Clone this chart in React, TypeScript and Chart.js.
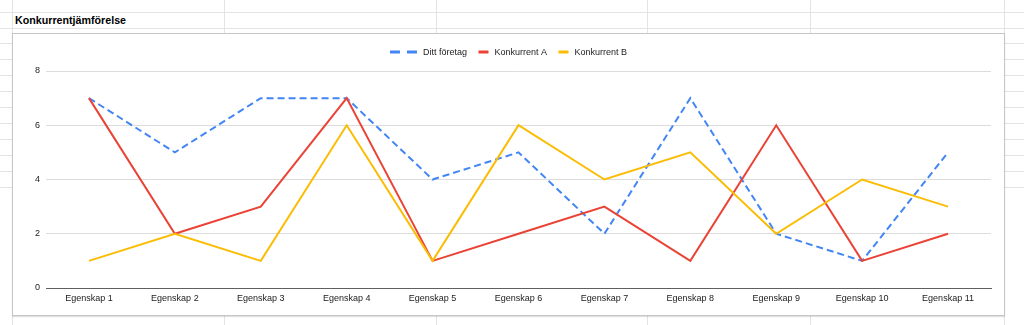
import React, { useEffect, useRef } from "react";
import { Chart, registerables } from "chart.js";

Chart.register(...registerables);

const categories = [
  "Egenskap 1", "Egenskap 2", "Egenskap 3", "Egenskap 4", "Egenskap 5", "Egenskap 6",
  "Egenskap 7", "Egenskap 8", "Egenskap 9", "Egenskap 10", "Egenskap 11",
];
const dittForetag = [7, 5, 7, 7, 4, 5, 2, 7, 2, 1, 5];
const konkurrentA = [7, 2, 3, 7, 1, 2, 3, 1, 6, 1, 2];
const konkurrentB = [1, 2, 1, 6, 1, 6, 4, 5, 2, 4, 3];
const seriesNames = ["Ditt företag", "Konkurrent A", "Konkurrent B"];
const seriesColors = ["#4285F4", "#EA4335", "#FBBC04"];
const yTicks = [0, 2, 4, 6, 8];

const FONT = "'Liberation Sans', Arial, sans-serif";
const GRID = "#e2e3e3";

const legendPlugin = {
  id: "sheetLegend",
  afterDraw(chart: any) {
    const ctx = chart.ctx;
    ctx.save();
    ctx.font = `9px ${FONT}`;
    ctx.textBaseline = "middle";
    ctx.textAlign = "left";
    const items = chart.data.datasets.map((ds: any) => {
      const dashed = ds.borderDash && ds.borderDash.length > 0;
      const symW = dashed ? 27 : 10;
      const textW = ctx.measureText(ds.label).width;
      return { ds, dashed, symW, textW, w: symW + 6 + textW };
    });
    const gap = 11.5;
    const total = items.reduce((s: number, it: any) => s + it.w, 0) + gap * (items.length - 1);
    let x = chart.width / 2 - total / 2;
    const y = 18;
    for (const it of items) {
      ctx.beginPath();
      ctx.setLineDash(it.dashed ? [10, 7] : []);
      ctx.lineWidth = 3;
      ctx.strokeStyle = it.ds.borderColor;
      ctx.moveTo(x, y);
      ctx.lineTo(x + it.symW, y);
      ctx.stroke();
      ctx.setLineDash([]);
      ctx.fillStyle = "#222";
      ctx.fillText(it.ds.label, x + it.symW + 6, y + 0.5);
      x += it.w + gap;
    }
    ctx.restore();
  },
};

function ChartBox() {
  const ref = useRef<HTMLCanvasElement | null>(null);
  useEffect(() => {
    if (!ref.current) return;
    const chart = new Chart(ref.current, {
      type: "line",
      data: {
        labels: categories,
        datasets: [
          {
            label: seriesNames[0],
            data: dittForetag,
            borderColor: seriesColors[0],
            backgroundColor: seriesColors[0],
            borderDash: [7, 4],
            borderWidth: 2,
            pointRadius: 0,
            tension: 0,
            order: 2,
          },
          {
            label: seriesNames[1],
            data: konkurrentA,
            borderColor: seriesColors[1],
            backgroundColor: seriesColors[1],
            borderWidth: 2,
            pointRadius: 0,
            tension: 0,
            order: 1,
          },
          {
            label: seriesNames[2],
            data: konkurrentB,
            borderColor: seriesColors[2],
            backgroundColor: seriesColors[2],
            borderWidth: 2,
            pointRadius: 0,
            tension: 0,
            order: 0,
          },
        ],
      },
      options: {
        animation: false,
        responsive: false,
        maintainAspectRatio: false,
        layout: { padding: { top: 37, right: 13, bottom: 0, left: 0 } },
        plugins: {
          legend: { display: false },
          tooltip: { enabled: false },
          title: { display: false },
        },
        scales: {
          x: {
            offset: true,
            grid: { display: false, drawTicks: false },
            border: { display: true, color: "#5f5f5f", width: 1 },
            ticks: {
              padding: 5,
              color: "#222",
              font: { family: FONT, size: 9 },
              maxRotation: 0,
              autoSkip: false,
            },
            afterFit: (s: any) => {
              s.height = 27;
            },
          },
          y: {
            min: 0,
            max: 8,
            afterBuildTicks: (s: any) => {
              s.ticks = yTicks.map((v) => ({ value: v }));
            },
            grid: { color: "#dcdcdc", lineWidth: 1, drawTicks: false },
            border: { display: false },
            ticks: {
              padding: 6,
              color: "#222",
              font: { family: FONT, size: 9 },
            },
            afterFit: (s: any) => {
              s.width = 33;
            },
          },
        },
      },
      plugins: [legendPlugin],
    });
    return () => chart.destroy();
  }, []);
  return <canvas ref={ref} width={991} height={281} style={{ display: "block", width: 991, height: 281 }} />;
}

const hRowsFull = [12, 28];
const sideRows = [43, 59, 75, 91, 107, 123, 139, 155, 171, 187];
const vCols = [12, 224, 436, 647, 810, 1004];

export default function App() {
  const lines: React.ReactNode[] = [];
  hRowsFull.forEach((y, i) =>
    lines.push(<div key={"h" + i} style={{ position: "absolute", left: 0, top: y, width: 1024, height: 1, background: GRID }} />)
  );
  sideRows.forEach((y, i) => {
    lines.push(<div key={"l" + i} style={{ position: "absolute", left: 0, top: y, width: 12, height: 1, background: GRID }} />);
    lines.push(<div key={"r" + i} style={{ position: "absolute", left: 1005, top: y, width: 19, height: 1, background: GRID }} />);
  });
  vCols.forEach((x, i) =>
    lines.push(<div key={"v" + i} style={{ position: "absolute", left: x, top: 0, width: 1, height: 325, background: GRID }} />)
  );
  return (
    <div style={{ position: "absolute", left: 0, top: 0, width: 1024, height: 325, overflow: "hidden", background: "#fff" }}>
      {lines}
      <div
        style={{
          position: "absolute",
          left: 15,
          top: 13,
          fontFamily: FONT,
          fontWeight: "bold",
          fontSize: 10.7,
          lineHeight: "14px",
          color: "#000",
          whiteSpace: "nowrap",
        }}
      >
        Konkurrentjämförelse
      </div>
      <div
        style={{
          position: "absolute",
          left: 12,
          top: 33,
          width: 993,
          height: 283,
          boxSizing: "border-box",
          border: "1px solid #c6c6c6",
          boxShadow: "0 1px 1px rgba(0,0,0,0.12)",
          background: "#fff",
        }}
      >
        <ChartBox />
      </div>
    </div>
  );
}
